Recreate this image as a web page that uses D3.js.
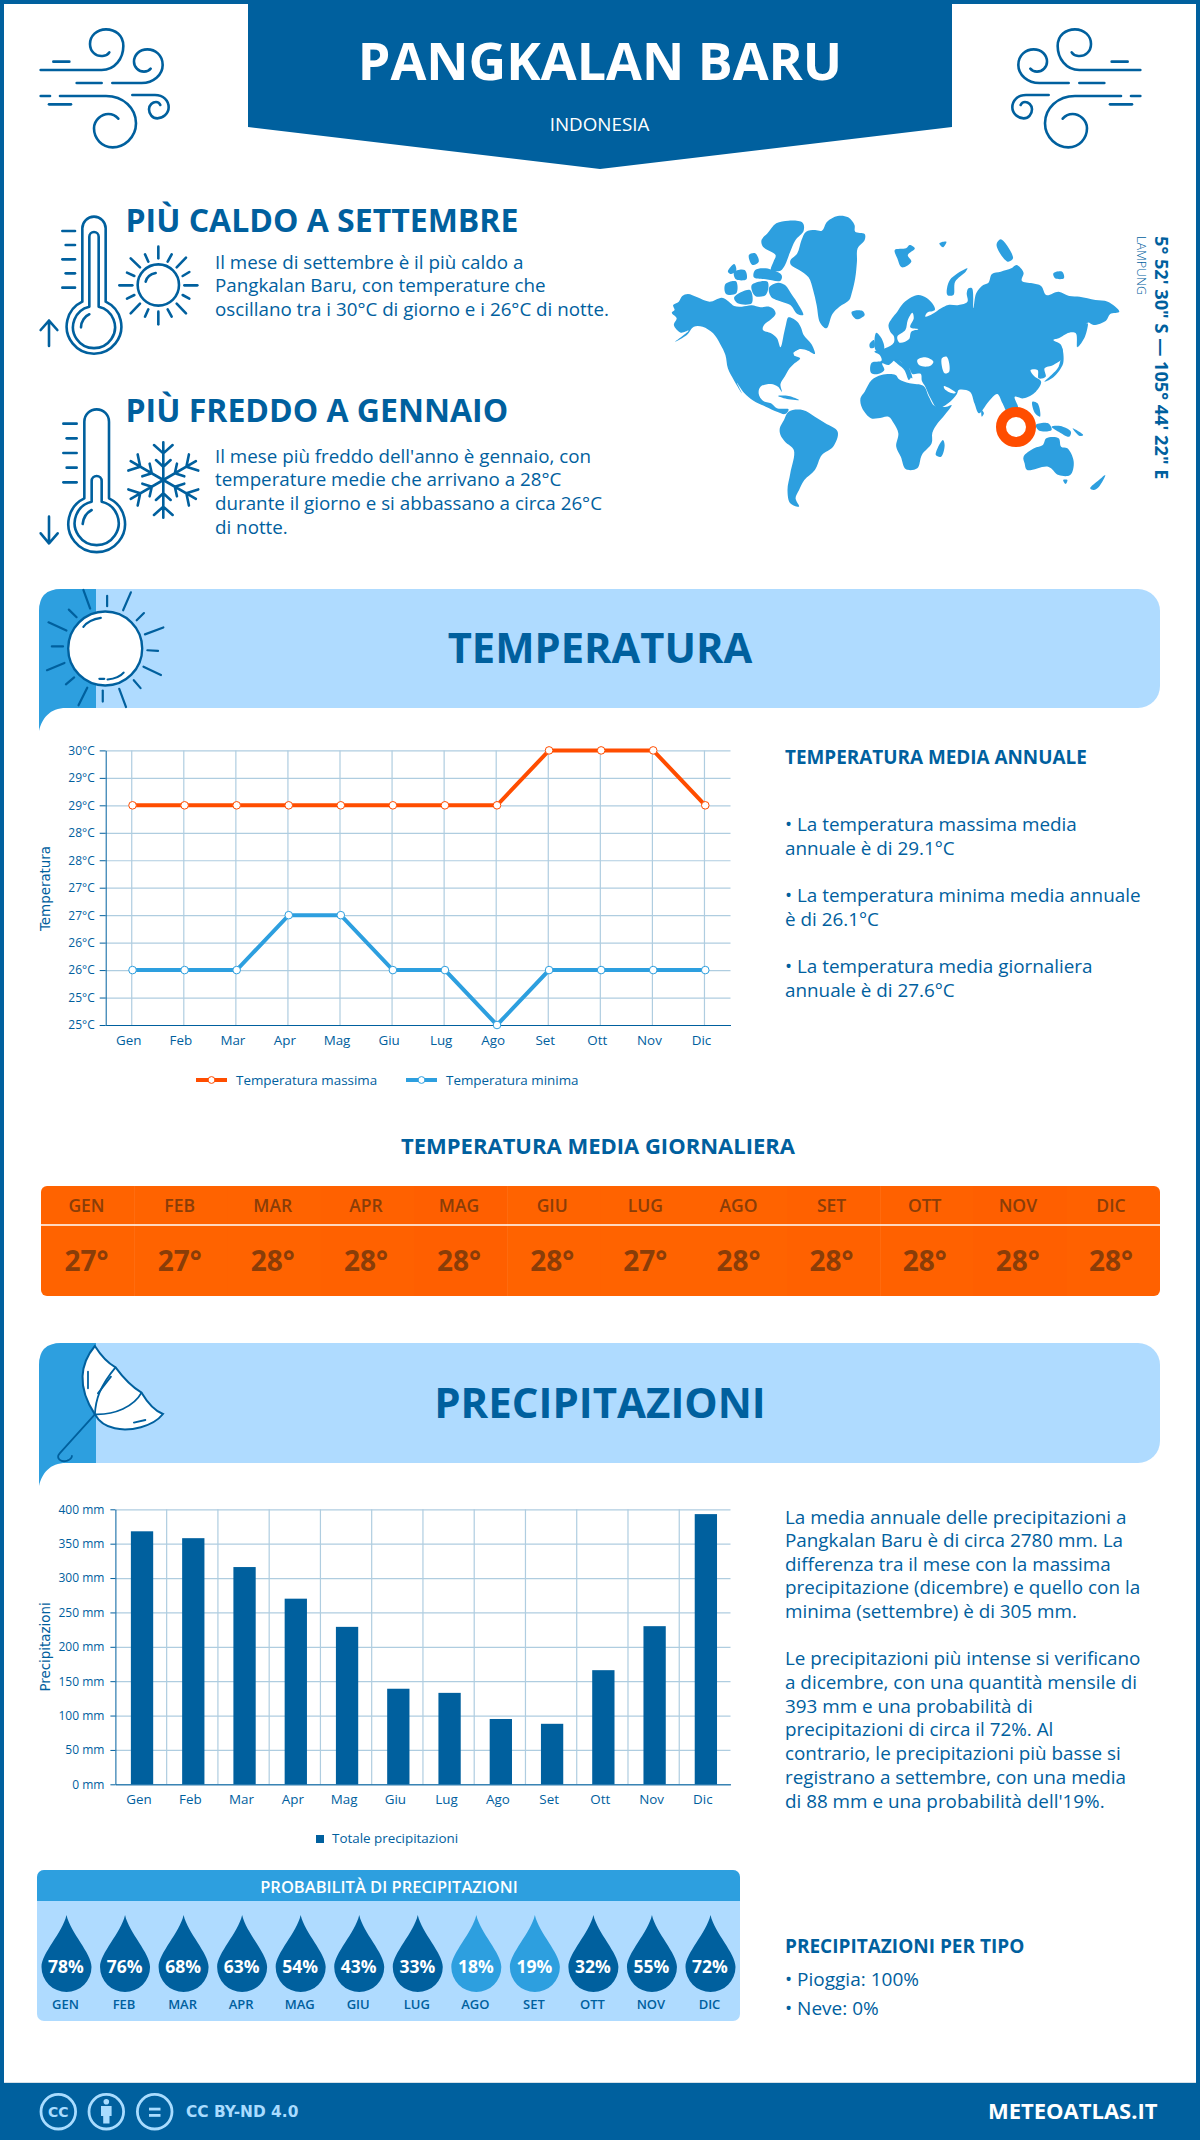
<!DOCTYPE html>
<html lang="it">
<head>
<meta charset="UTF-8">
<title>Pangkalan Baru - Indonesia</title>
<script src="https://d3js.org/d3.v7.min.js"></script>
<style>
    body { margin: 0; background: #fff; }
    svg { display: block; }
    text { font-family: "Open Sans", sans-serif; fill: #00609e; }
    .axis text { font-size: 12px; fill: #00609e; }
    .axis-x text { font-size: 13.4px; }
    .axis path, .axis line { stroke: #00609e; }
    .grid path { display: none; }
    .grid line { stroke: #afcde0; stroke-width: 1.2px; }
    .axis-title { font-family: "DejaVu Sans", sans-serif; font-size: 13.4px; text-anchor: middle; }
    .icon { fill: none; stroke: #00609e; stroke-linecap: round; stroke-linejoin: round; }
    .icon-thin { stroke-width: 2.6px; vector-effect: non-scaling-stroke; }
</style>
</head>
<body>
<div id="chart"></div>
<script>
// chart values
const months = ["Gen", "Feb", "Mar", "Apr", "Mag", "Giu", "Lug", "Ago", "Set", "Ott", "Nov", "Dic"];
const monthsUpper = ["GEN", "FEB", "MAR", "APR", "MAG", "GIU", "LUG", "AGO", "SET", "OTT", "NOV", "DIC"];
const tempMax = [29, 29, 29, 29, 29, 29, 29, 29, 30, 30, 30, 29];
const tempMin = [26, 26, 26, 27, 27, 26, 26, 25, 26, 26, 26, 26];
const tempTicks = [25, 25.5, 26, 26.5, 27, 27.5, 28, 28.5, 29, 29.5, 30];
const tempTickLabels = ["25°C", "25°C", "26°C", "26°C", "27°C", "27°C", "28°C", "28°C", "29°C", "29°C", "30°C"];
const dailyMean = [27, 27, 28, 28, 28, 28, 27, 28, 28, 28, 28, 28];
const dailyFill = ["#ff6300", "#ff6300", "#ff6300", "#ff6100", "#ff5f00", "#ff6300", "#ff6300", "#ff6300", "#ff6100", "#ff6100", "#ff5f00", "#ff6100"];
const precip = [368, 358, 316, 270, 229, 139, 133, 95, 88, 166, 230, 393];
const precipTicks = [0, 50, 100, 150, 200, 250, 300, 350, 400];
const rainChance = [78, 76, 68, 63, 54, 43, 33, 18, 19, 32, 55, 72];

// texts
const hotLines = ["Il mese di settembre è il più caldo a", "Pangkalan Baru, con temperature che", "oscillano tra i 30°C di giorno e i 26°C di notte."];
const coldLines = ["Il mese più freddo dell'anno è gennaio, con", "temperature medie che arrivano a 28°C", "durante il giorno e si abbassano a circa 26°C", "di notte."];
const tempNotes = [
    ["• La temperatura massima media", 831], ["annuale è di 29.1°C", 854.5],
    ["• La temperatura minima media annuale", 902], ["è di 26.1°C", 926],
    ["• La temperatura media giornaliera", 973], ["annuale è di 27.6°C", 997]
];
const precipNotes = [
    ["La media annuale delle precipitazioni a", 1523.5], ["Pangkalan Baru è di circa 2780 mm. La", 1547],
    ["differenza tra il mese con la massima", 1570.5], ["precipitazione (dicembre) e quello con la", 1594],
    ["minima (settembre) è di 305 mm.", 1618],
    ["Le precipitazioni più intense si verificano", 1665], ["a dicembre, con una quantità mensile di", 1689],
    ["393 mm e una probabilità di", 1712.5], ["precipitazioni di circa il 72%. Al", 1736],
    ["contrario, le precipitazioni più basse si", 1760], ["registrano a settembre, con una media", 1784],
    ["di 88 mm e una probabilità dell'19%.", 1807.5]
];

const blue = "#00609e", mid = "#2d9fdf", light = "#afdbff", orange = "#ff4d00";

const svg = d3.select("#chart").append("svg").attr("width", 1200).attr("height", 2140);

function label(parent, str, x, y, size, weight, anchor) {
    return parent.append("text")
        .attr("x", x).attr("y", y)
        .attr("font-size", size + "px")
        .attr("font-weight", weight || 400)
        .attr("text-anchor", anchor || "start")
        .text(str);
}

// page frame
svg.append("rect").attr("x", 2).attr("y", 2).attr("width", 1196).attr("height", 2130)
    .attr("fill", "none").attr("stroke", blue).attr("stroke-width", 4);

// header
svg.append("path").attr("d", "M248,0 H952 V127 L600,169 L248,127 Z").attr("fill", blue);
label(svg, "PANGKALAN BARU", 600, 80, 52, 700, "middle").style("fill", "#fff");
label(svg, "INDONESIA", 599.5, 131, 18.8, 400, "middle").style("fill", "#fff");

// wind icons, traced at 3x
const windPaths = [
    "M62,180 H245 C285,180 310,145 310,108 C310,75 285,58 258,58 C230,58 210,78 210,102 C210,125 228,140 248,138 C258,137 265,132 268,127",
    "M100,155 H148", "M170,219 H245",
    "M277,219 H365 C400,219 428,195 428,165 C428,135 405,118 382,118 C358,118 342,135 342,155 C342,172 356,185 372,185 C380,185 388,181 392,176",
    "M62,258 H90",
    "M120,258 H258 C310,258 348,295 348,340 C348,385 310,412 278,412 C245,412 222,385 222,355 C222,330 245,312 265,312 C278,312 288,318 295,326",
    "M87,283 H153",
    "M337,255 H405 C430,255 446,272 446,292 C446,312 428,325 412,325 C397,325 387,312 387,298 C387,285 398,276 408,276 C414,276 419,280 421,285"
];
[[20, 10, 1], [1161, 10, -1]].forEach(([tx, ty, flip]) => {
    svg.append("g").attr("transform", `translate(${tx},${ty}) scale(${flip / 3},${1 / 3})`)
        .selectAll("path").data(windPaths).join("path")
        .attr("class", "icon icon-thin").attr("d", d => d);
});

function traced(x, y, sx, sy, paths) {
    return svg.append("g").attr("transform", `translate(${x},${y}) scale(${sx},${sy})`)
        .selectAll("path").data(paths).join("path")
        .attr("class", "icon icon-thin").attr("d", d => d);
}

// hot thermometer and sun
const sunRays = ["M385,140 V175", "M385,335 V373", "M268,256 H307", "M463,256 H502", "M302,175 L330,202", "M468,173 L440,202",
    "M302,340 L330,311", "M468,340 L440,311", "M345,163 L355,185", "M425,163 L413,185", "M291,218 L313,228", "M478,216 L458,228",
    "M291,296 L313,285", "M478,296 L458,285", "M345,350 L355,328", "M425,350 L413,328"];
traced(30, 200, 1 / 3, 1 / 3, [
    "M157,305 V85 A35,35 0 0 1 227,85 V305 A82,82 0 1 1 157,305 Z",
    "M178,320 V110 A14,14 0 0 1 206,110 V320 A63,63 0 1 1 178,320 Z",
    "M153,382 C153,365 165,348 178,343",
    "M97,93 H135", "M107,135 H135", "M97,178 H135", "M107,220 H135", "M97,263 H135",
    "M57,438 V362 M32,390 L57,362 L82,390",
    "M323,255 a62,62 0 1 0 124,0 a62,62 0 1 0 -124,0",
    "M347,245 C350,232 362,222 377,219"
].concat(sunRays));

// cold thermometer and snowflake
traced(30, 400, 1 / 3, 1 / 3, [
    "M163,295 V65 A37,37 0 0 1 237,65 V295 A85,85 0 1 1 163,295 Z",
    "M185,305 V243 A15,15 0 0 1 215,243 V305 A66,66 0 1 1 185,305 Z",
    "M158,372 C160,352 170,338 185,330",
    "M100,71 H140", "M110,115 H140", "M100,159 H140", "M110,203 H140", "M100,247 H140",
    "M57,350 V430 M32,400 L57,430 L83,400"
]);
d3.range(6).forEach(i => {
    svg.append("g").attr("transform", `translate(163.3,480) rotate(${i * 60}) scale(0.333)`)
        .append("path").attr("class", "icon icon-thin")
        .attr("d", "M0,0 V-113 M-28,-105 L0,-80 L28,-105 M-22,-60 L0,-40 L22,-60");
});

// headline blocks
label(svg, "PIÙ CALDO A SETTEMBRE", 125.5, 232, 32, 700);
hotLines.forEach((t, i) => label(svg, t, 215, [268.6, 292, 316][i], 18.8));
label(svg, "PIÙ FREDDO A GENNAIO", 125.5, 422, 32, 700);
coldLines.forEach((t, i) => label(svg, t, 215, [463, 486, 510, 533.5][i], 18.8));

// world map, outlines traced at the crop scale and smoothed
const mapG = svg.append("g").attr("transform", `translate(650,190) scale(${1 / 2.851},${1 / 3})`);
const land = [
    // north america
    "62,368 70,360 66,345 82,335 92,318 108,312 135,322 170,335 205,323 225,335 240,348 262,350 290,346 315,352 340,350 353,358 358,372 345,388 325,405 322,420 345,430 362,445 372,472 382,430 388,402 395,382 420,395 430,412 438,435 460,462 470,492 450,482 425,478 410,495 428,505 412,520 398,535 385,558 372,582 376,605 365,590 345,582 315,590 310,612 322,632 345,640 362,655 395,658 385,672 362,665 330,650 295,632 268,608 248,578 262,610 240,572 222,535 215,495 200,462 180,430 150,410 125,410 105,435 72,455 110,422 88,428 68,405 76,385",
    // arctic islands
    "335,130 360,100 395,92 435,98 438,122 415,150 398,190 385,225 372,242 345,240 352,215 358,195 322,170 318,150",
    "340,292 365,278 385,285 405,315 418,335 437,375 420,372 400,345 375,335 345,320",
    "215,282 245,274 246,310 217,312", "240,322 285,300 290,340 250,340",
    "222,245 240,222 246,240 232,252", "300,240 330,235 375,255 372,272 330,268 296,262",
    "290,285 335,275 330,315 300,318", "282,195 300,190 310,215 292,225", "240,245 270,240 275,268 245,268",
    // greenland, iceland
    "400,212 420,190 432,150 445,125 470,120 490,122 505,95 535,78 565,82 583,105 585,125 612,132 612,150 592,175 590,215 585,265 575,310 568,330 540,350 520,372 503,415 485,398 475,345 465,300 452,262 425,240 402,225",
    "575,365 605,362 612,375 590,388 578,378",
    // arctic russia islands
    "698,180 730,175 740,165 755,175 735,195 745,215 718,232 705,205",
    "848,315 855,270 905,235 900,245 870,275 865,315",
    "825,160 845,155 835,172", "988,165 1000,148 1035,205 1020,215", "1150,250 1175,245 1180,265 1155,265",
    // britain, ireland
    "640,465 645,428 660,445 667,478 645,482", "626,462 638,450 640,472 628,474",
    // eurasia
    "685,425 680,405 690,385 705,365 722,340 745,322 765,315 790,325 808,345 812,360 790,368 785,380 805,372 830,355 850,345 880,345 905,335 903,310 908,295 918,295 922,355 930,310 950,285 965,278 975,252 1000,245 1030,235 1045,225 1065,248 1060,272 1090,280 1115,288 1130,315 1165,305 1195,318 1225,320 1270,330 1305,335 1338,365 1312,372 1300,392 1265,405 1248,398 1235,430 1218,472 1214,430 1195,428 1165,445 1150,450 1172,465 1175,505 1150,525 1125,535 1128,560 1108,565 1105,540 1085,540 1095,558 1115,575 1100,605 1065,625 1040,620 1050,655 1040,685 1025,680 1005,640 990,612 965,635 938,670 925,640 912,605 880,600 875,612 850,640 820,655 800,625 785,590 775,572 772,552 748,552 740,535 748,565 730,545 715,515 700,510 680,525 662,520 668,540 650,552 630,548 632,518 660,512 655,495 640,485 670,475 695,458 695,438",
    "695,510 705,508 745,555 738,570 725,540",
    // japan, sakhalin
    "1125,575 1165,530 1175,475 1178,520 1150,562", "1220,470 1228,425 1248,400 1240,440",
    // philippines, indonesia, new guinea
    "1090,635 1105,640 1112,680 1098,670", "1100,705 1135,700 1145,720 1110,722",
    "1145,710 1170,708 1200,725 1195,740 1165,725", "1205,715 1235,735 1225,738",
    // africa, madagascar
    "600,625 612,605 632,570 660,555 700,555 710,568 740,580 780,588 795,620 812,648 845,650 860,645 840,675 820,700 805,728 803,760 775,795 762,835 730,838 715,800 702,770 708,730 695,700 680,680 650,685 630,685 605,655",
    "815,795 835,750 840,765 830,800", "945,660 952,670 946,680",
    // south america
    "370,715 382,690 395,665 435,660 470,680 500,700 535,725 522,770 490,795 470,840 440,870 425,900 415,925 425,950 400,940 392,900 400,850 410,780 385,755 372,735",
    // cuba
    "365,618 395,618 425,630 395,628",
    // australia, tasmania, new zealand
    "1065,800 1095,775 1120,765 1130,745 1165,745 1172,770 1190,775 1208,815 1198,855 1165,855 1135,830 1075,840 1068,820",
    "1178,870 1190,870 1185,882", "1255,895 1280,870 1298,855 1280,890 1265,900"
];
const seas = [
    "365,335 390,348 388,368 372,360", // foxe basin
    "408,490 425,480 442,490 428,494", // great lakes
    "762,510 785,502 808,515 798,528 768,526", // black sea
    "832,505 846,500 853,545 840,550", // caspian
    "748,368 735,390 728,420 705,440 712,458 738,448 745,425 765,418 742,412 752,385", // baltic
    "838,588 872,608 862,610 840,597" // persian gulf
];
const coast = d3.line().curve(d3.curveCatmullRomClosed.alpha(0.5));
const toPoints = s => s.split(" ").map(p => p.split(",").map(Number));
mapG.selectAll("path.land").data(land).join("path").attr("class", "land").attr("fill", mid).attr("d", d => coast(toPoints(d)));
mapG.selectAll("path.sea").data(seas).join("path").attr("class", "sea").attr("fill", "#fff").attr("d", d => coast(toPoints(d)));
svg.append("circle").attr("cx", 1016).attr("cy", 427).attr("r", 15).attr("fill", "#fff")
    .attr("stroke", orange).attr("stroke-width", 10);

// coordinates, rotated
label(svg, "5° 52' 30\" S — 105° 44' 22\" E", 0, 0, 18.2, 700).attr("transform", "translate(1155,236) rotate(90)");
label(svg, "LAMPUNG", 0, 0, 12.5, 300).attr("transform", "translate(1137,236) rotate(90)");

// section banner
function banner(top, bottom, title, baseline, size) {
    svg.append("rect").attr("x", 39).attr("y", top).attr("width", 1121).attr("height", bottom - top)
        .attr("rx", 22).attr("fill", light);
    svg.append("path")
        .attr("d", `M39,${bottom + 23} V${top + 22} Q39,${top} 61,${top} H96 V${bottom} H66 C50,${bottom} 42,${bottom + 10} 39,${bottom + 23} Z`)
        .attr("fill", mid);
    label(svg, title, 600, baseline, size, 700, "middle");
}
banner(589, 708, "TEMPERATURA", 662.5, 41.7);
banner(1343, 1463, "PRECIPITAZIONI", 1418, 42);

// sun in temperature banner, traced on the stretched crop
svg.append("ellipse").attr("cx", 105.2).attr("cy", 648.5).attr("rx", 37).attr("ry", 37)
    .attr("fill", "#fff").attr("stroke", blue).attr("stroke-width", 2.4);
traced(0, 570, 1 / 2.063, 1 / 2.904, [
    "M172,58 L186,112", "M221,75 L221,105", "M270,65 L254,117", "M297,125 L282,146", "M337,167 L299,187", "M304,233 L326,235",
    "M296,281 L332,305", "M276,320 L290,343", "M246,345 L260,398", "M212,350 L212,382", "M180,342 L162,393", "M153,312 L136,332",
    "M133,270 L97,291", "M107,222 L130,222", "M100,152 L137,176", "M142,115 L158,137",
    "M172,165 C180,150 195,142 208,139", "M205,316 H215", "M222,318 C235,316 248,310 255,298"
]).style("stroke-width", "2.2px");

// umbrella in precipitation banner
svg.append("g").attr("transform", `translate(0,1120) scale(${1 / 1.307},${1 / 3})`)
    .append("path")
    .attr("d", "M124,678 C130,700 140,728 151,742 C160,770 172,800 185,818 C192,845 200,870 213,882 C200,920 170,935 150,925 C135,918 128,900 124,883 C100,800 105,730 124,678 Z")
    .attr("fill", "#fff").attr("stroke", blue).attr("stroke-width", 2).style("vector-effect", "non-scaling-stroke");
traced(0, 1120, 1 / 1.307, 1 / 3, [
    "M151,742 C130,800 125,840 124,883", "M185,818 C175,860 150,885 124,883",
    "M124,883 L78,1000 C72,1015 80,1028 88,1022 C92,1018 94,1012 94,1008",
    "M115,755 V805", "M145,770 L128,820", "M175,908 L190,900"
]).style("stroke-width", "1.8px");

// temperature chart
const tLeft = 105.7, tRight = 730.5, tTop = 750.4, tBottom = 1025;
const tx = d3.scaleBand().domain(months).range([tLeft, tRight]);
const ty = d3.scaleLinear().domain([25, 30]).range([tBottom, tTop]);
const tCenter = m => tx(m) + tx.bandwidth() / 2;

svg.append("g").attr("class", "grid").attr("transform", `translate(${tLeft},0)`)
    .call(d3.axisLeft(ty).tickValues(tempTicks).tickSize(-(tRight - tLeft)).tickFormat(""));
svg.append("g").selectAll("line").data(months).join("line")
    .attr("x1", tCenter).attr("x2", tCenter).attr("y1", tTop).attr("y2", tBottom)
    .attr("stroke", "#afcde0").attr("stroke-width", 1.2);
svg.append("g").attr("class", "axis").attr("transform", `translate(${tLeft},0)`)
    .call(d3.axisLeft(ty).tickValues(tempTicks).tickFormat((d, i) => tempTickLabels[i]).tickSize(6).tickPadding(5).tickSizeOuter(0));
svg.append("g").attr("class", "axis axis-x").attr("transform", `translate(0,${tBottom})`)
    .call(d3.axisBottom(tx).tickSize(0).tickPadding(10))
    .call(g => g.selectAll("text").attr("dx", -3));

const tempLine = d3.line().x((d, i) => tCenter(months[i]) + 0.8).y(d => ty(d));
[[tempMax, orange], [tempMin, mid]].forEach(([vals, col]) => {
    svg.append("path").datum(vals).attr("fill", "none").attr("stroke", col).attr("stroke-width", 4).attr("d", tempLine);
    svg.append("g").selectAll("circle").data(vals).join("circle")
        .attr("cx", (d, i) => tCenter(months[i]) + 0.8).attr("cy", d => ty(d)).attr("r", 3.8)
        .attr("fill", "#fff").attr("stroke", col).attr("stroke-width", 1);
});
svg.append("text").attr("class", "axis-title").attr("transform", "translate(50,888.5) rotate(-90)").text("Temperatura");

// temperature legend
[[196, 236, orange, "Temperatura massima"], [406, 446, mid, "Temperatura minima"]].forEach(([x, tx0, col, name]) => {
    svg.append("line").attr("x1", x).attr("x2", x + 31).attr("y1", 1080).attr("y2", 1080).attr("stroke", col).attr("stroke-width", 4);
    svg.append("circle").attr("cx", x + 15.5).attr("cy", 1080).attr("r", 3.4).attr("fill", "#fff").attr("stroke", col);
    label(svg, name, tx0, 1084.5, 13.4);
});

// temperature notes
label(svg, "TEMPERATURA MEDIA ANNUALE", 785, 764, 18.9, 700);
tempNotes.forEach(([t, y]) => label(svg, t, 785, y, 18.85));

// daily mean strip
label(svg, "TEMPERATURA MEDIA GIORNALIERA", 598, 1154, 22, 700, "middle");
const dx = d3.scaleBand().domain(monthsUpper).range([41, 1160]);
const dCenter = d3.scalePoint().domain(monthsUpper).range([86.5, 1111]);
svg.append("clipPath").attr("id", "stripClip").append("rect")
    .attr("x", 41).attr("y", 1186).attr("width", 1119).attr("height", 110).attr("rx", 6);
const strip = svg.append("g").attr("clip-path", "url(#stripClip)");
strip.selectAll("rect").data(monthsUpper).join("rect")
    .attr("x", d => dx(d)).attr("y", 1186).attr("width", dx.bandwidth() + 0.5).attr("height", 110)
    .attr("fill", (d, i) => dailyFill[i]);
strip.append("line").attr("x1", 41).attr("x2", 1160).attr("y1", 1225).attr("y2", 1225).attr("stroke", "#fff").attr("stroke-width", 1.4);
monthsUpper.forEach((m, i) => {
    label(svg, m, dCenter(m), 1211.5, 17.5, 600, "middle").style("fill", "#8a3d08");
    label(svg, dailyMean[i] + "°", dCenter(m), 1270.5, 28, 700, "middle").style("fill", "#8a3d08");
});

// precipitation chart
const pLeft = 115.4, pRight = 730.5, pTop = 1509.3, pBottom = 1784.3;
const px = d3.scaleBand().domain(months).range([pLeft, pRight]).paddingInner(0.565).paddingOuter(0.2825);
const py = d3.scaleLinear().domain([0, 400]).range([pBottom, pTop]);
const pStep = (pRight - pLeft) / 12;

svg.append("g").attr("class", "grid").attr("transform", `translate(${pLeft},0)`)
    .call(d3.axisLeft(py).tickValues(precipTicks).tickSize(-(pRight - pLeft)).tickFormat(""));
svg.append("g").selectAll("line").data(months.slice(1)).join("line")
    .attr("x1", (d, i) => pLeft + pStep * (i + 1)).attr("x2", (d, i) => pLeft + pStep * (i + 1))
    .attr("y1", pTop).attr("y2", pBottom)
    .attr("stroke", "#afcde0").attr("stroke-width", 1.2);
svg.append("g").selectAll("rect").data(precip).join("rect")
    .attr("x", (d, i) => px(months[i]) + 1).attr("y", d => py(d))
    .attr("width", px.bandwidth()).attr("height", d => pBottom - py(d))
    .attr("fill", blue);
svg.append("g").attr("class", "axis").attr("transform", `translate(${pLeft},0)`)
    .call(d3.axisLeft(py).tickValues(precipTicks).tickFormat(d => d + " mm").tickSize(5).tickPadding(6).tickSizeOuter(0));
svg.append("g").attr("class", "axis axis-x").attr("transform", `translate(0,${pBottom})`)
    .call(d3.axisBottom(px).tickSize(0).tickPadding(10))
    .call(g => g.selectAll("text").attr("dx", -2));
svg.append("text").attr("class", "axis-title").attr("transform", "translate(50,1647) rotate(-90)").text("Precipitazioni");

svg.append("rect").attr("x", 316).attr("y", 1835).attr("width", 8).attr("height", 8).attr("fill", blue);
label(svg, "Totale precipitazioni", 332, 1843, 13.4);

// precipitation notes
precipNotes.forEach(([t, y]) => label(svg, t, 785, y, 18.85));

// rain chance panel
svg.append("clipPath").attr("id", "panelClip").append("rect")
    .attr("x", 37).attr("y", 1870).attr("width", 703).attr("height", 151).attr("rx", 7);
const panel = svg.append("g").attr("clip-path", "url(#panelClip)");
panel.append("rect").attr("x", 37).attr("y", 1870).attr("width", 703).attr("height", 151).attr("fill", light);
panel.append("rect").attr("x", 37).attr("y", 1870).attr("width", 703).attr("height", 31).attr("fill", mid);
label(svg, "PROBABILITÀ DI PRECIPITAZIONI", 389, 1892.5, 16.5, 600, "middle").style("fill", "#fff");

const rx = d3.scalePoint().domain(monthsUpper).range([66.5, 710.5]);
const dropPath = "M0,0 C4,18 25,38 25,52 A25,25 0 0 1 -25,52 C-25,38 -4,18 0,0 Z";
rainChance.forEach((v, i) => {
    const m = monthsUpper[i], cx = rx(m);
    svg.append("path").attr("transform", `translate(${cx},1915)`).attr("d", dropPath).attr("fill", v < 20 ? mid : blue);
    label(svg, v + "%", cx - 0.5, 1973, 17.5, 700, "middle").style("fill", "#fff");
    label(svg, m, cx - 1, 2008.5, 13, 600, "middle");
});

label(svg, "PRECIPITAZIONI PER TIPO", 785, 1953, 19, 700);
label(svg, "• Pioggia: 100%", 785, 1986, 19);
label(svg, "• Neve: 0%", 785, 2015, 19);

// footer
svg.append("rect").attr("x", 0).attr("y", 2083).attr("width", 1200).attr("height", 57).attr("fill", blue);
svg.append("line").attr("x1", 4).attr("x2", 1196).attr("y1", 2082.5).attr("y2", 2082.5).attr("stroke", "#d5e0e8");
const ccCol = "#a9dcff";
[58.3, 106.3, 154.7].forEach(cx => {
    svg.append("circle").attr("cx", cx).attr("cy", 2111.7).attr("r", 17.3)
        .attr("fill", "none").attr("stroke", ccCol).attr("stroke-width", 2.8);
});
label(svg, "CC", 58.3, 2116.5, 14, 700, "middle").style("fill", ccCol).style("font-family", "'DejaVu Sans'");
svg.append("circle").attr("cx", 106.3).attr("cy", 2101.7).attr("r", 2.8).attr("fill", ccCol);
svg.append("path").attr("fill", ccCol).attr("d", "M101,2106 H111.6 V2116 H109.5 V2123.5 H103.2 V2116 H101 Z");
svg.append("rect").attr("x", 149).attr("y", 2107.7).attr("width", 11.5).attr("height", 2.8).attr("fill", ccCol);
svg.append("rect").attr("x", 149).attr("y", 2114).attr("width", 11.5).attr("height", 2.8).attr("fill", ccCol);
label(svg, "CC BY-ND 4.0", 186, 2116.7, 15.4, 700).style("fill", ccCol).style("font-family", "'DejaVu Sans'");
label(svg, "METEOATLAS.IT", 1157.5, 2119, 22, 700, "end").style("fill", "#fff");
</script>
</body>
</html>
